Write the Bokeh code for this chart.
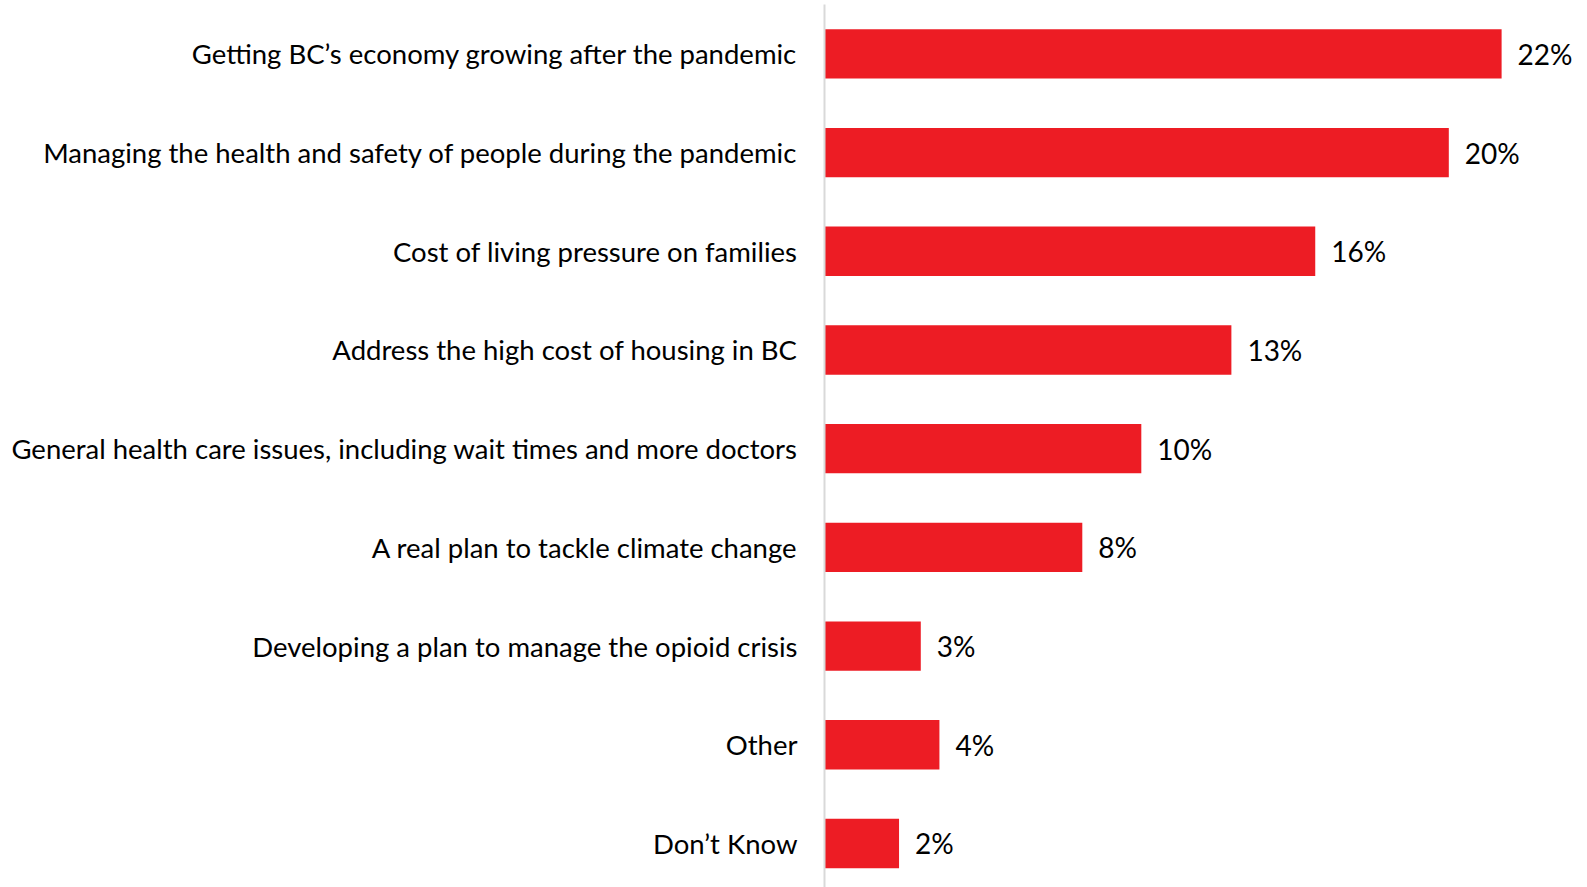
from bokeh.plotting import figure
from bokeh.models import ColumnDataSource, FixedTicker, Range1d
from bokeh.core.properties import value
from bokeh.embed import file_html
from bokeh.resources import INLINE

categories = [
    "Getting BC\u2019s economy growing after the pandemic",
    "Managing the health and safety of people during the pandemic",
    "Cost of living pressure on families",
    "Address the high cost of housing in BC",
    "General health care issues, including wait times and more doctors",
    "A real plan to tackle climate change",
    "Developing a plan to manage the opioid crisis",
    "Other",
    "Don\u2019t Know",
]
values = [21.8, 20.1, 15.8, 13.1, 10.2, 8.3, 3.1, 3.7, 2.4]
labels = ["22%", "20%", "16%", "13%", "10%", "8%", "3%", "4%", "2%"]

n = len(categories)
ypos = [n - i for i in range(n)]

src = ColumnDataSource(dict(y=ypos, v=values, lab=labels))

W, H = 1587, 887
left = 824
top = 4
xmax = (W - left) / 31.06

p = figure(width=W, height=H, output_backend="svg", toolbar_location=None,
           x_range=Range1d(0, xmax), y_range=Range1d(0.554, n + 0.5),
           min_border_left=left, min_border_right=0, min_border_top=top,
           min_border_bottom=0)
p.outline_line_color = None
p.grid.visible = False
p.xaxis.visible = False
p.background_fill_color = "white"
p.border_fill_color = "white"

p.hbar(y="y", left=0, right="v", height=0.5, source=src,
       fill_color="#ED1C24", line_color=None)
p.text(x="v", y="y", text="lab", source=src, x_offset=16,
       text_align="left", text_baseline="middle",
       text_font=value("Lato"), text_font_size="28px", text_color="#000000")

ya = p.yaxis[0]
ya.ticker = FixedTicker(ticks=ypos)
ya.major_label_overrides = {y: c for y, c in zip(ypos, categories)}
ya.major_tick_line_color = None
ya.minor_tick_line_color = None
ya.major_tick_out = 0
ya.major_tick_in = 0
ya.axis_line_color = "#d9d9d9"
ya.axis_line_width = 2
ya.major_label_standoff = 27
ya.major_label_text_font = "Lato"
ya.major_label_text_font_size = "27.5px"
ya.major_label_text_color = "#000000"

open("out.html", "w").write(file_html(p, INLINE))
